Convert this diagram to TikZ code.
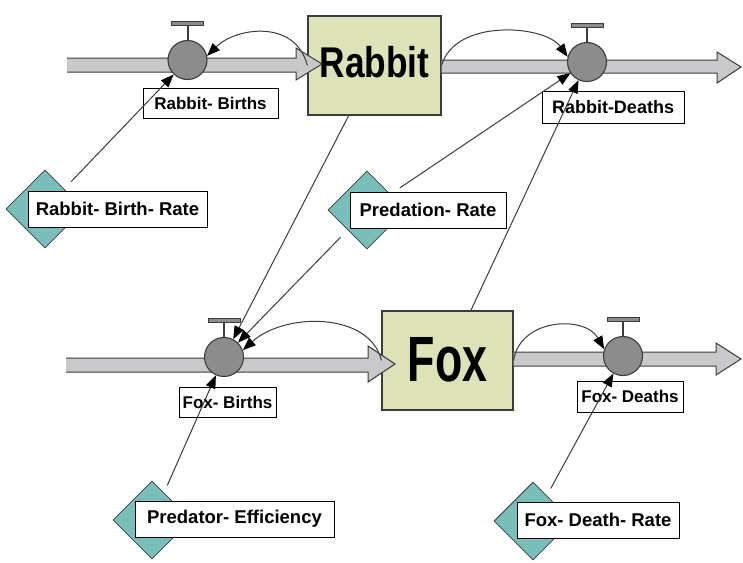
\documentclass[tikz,border=0pt]{standalone}
\usepackage{fontspec}
\setmainfont{Liberation Sans}
\usetikzlibrary{shapes.geometric,arrows.meta}
\definecolor{stockfill}{HTML}{DDE2B8}
\definecolor{auxfill}{HTML}{7ABEBB}
\definecolor{valvefill}{HTML}{8C8C8C}
\definecolor{pipefill}{HTML}{C9C9CB}
\definecolor{edgecol}{HTML}{3C3C3C}
\begin{document}
\begin{tikzpicture}[x=1pt,y=-1pt,
  stock/.style={draw=edgecol, fill=stockfill, line width=1.2pt, inner sep=0pt,
    minimum width=133pt, minimum height=99pt, font=\bfseries},
  valve/.style={circle, draw=edgecol, fill=valvefill, line width=1.1pt,
    minimum size=39pt, inner sep=0pt},
  aux/.style={diamond, draw=edgecol, fill=auxfill, line width=0.8pt,
    minimum width=78pt, minimum height=78pt, inner sep=0pt},
  lblA/.style={draw=black, fill=white, line width=0.8pt, inner sep=0pt,
    minimum height=30pt, font=\bfseries\fontsize{17}{17}\selectfont},
  lblB/.style={draw=black, fill=white, line width=0.8pt, inner sep=0pt,
    minimum height=36pt, font=\bfseries\fontsize{18.5}{18.5}\selectfont},
  pipe/.style={draw=edgecol, line width=1pt, line join=miter},
  link/.style={draw=edgecol, line width=1pt,
    -{Triangle[length=13pt,width=10pt,color=black,fill=black]}},
  tbar/.style={draw=edgecol, fill=valvefill, line width=1pt}
]
\useasboundingbox (0,0) rectangle (743,562);
\fill[white] (0,0) rectangle (743,562);

% stocks
\node[stock] (rabbit) at (374.5,65.5) {\raisebox{7pt}{\scalebox{0.82}[1]{\fontsize{43}{43}\selectfont Rabbit}}};
\node[stock, minimum width=131pt] (fox) at (447.5,360.5) {\raisebox{2.5pt}{\scalebox{0.70}[1]{\fontsize{64}{64}\selectfont Fox}}};

% pipes (flows)
\fill[pipefill] (67,58)--(296,58)--(296,48)--(322,64)--(296,80)--(296,72)--(67,72)--cycle;
\draw[pipe] (67,58)--(296,58)--(296,48)--(322,64)--(296,80)--(296,72)--(67,72);
\fill[pipefill] (rabbit.east |- 0,60)--(717,60)--(717,52)--(741,67)--(717,83)--(717,73)--(rabbit.east |- 0,73)--cycle;
\draw[pipe] (rabbit.east |- 0,60)--(717,60)--(717,52)--(741,67)--(717,83)--(717,73)--(rabbit.east |- 0,73);
\fill[pipefill] (66,358)--(368,358)--(368,346)--(395,364)--(368,382)--(368,372)--(66,372)--cycle;
\draw[pipe] (66,358)--(368,358)--(368,346)--(395,364)--(368,382)--(368,372)--(66,372);
\fill[pipefill] (fox.east |- 0,352)--(716,352)--(716,343)--(741,359)--(716,375)--(716,366)--(fox.east |- 0,366)--cycle;
\draw[pipe] (fox.east |- 0,352)--(716,352)--(716,343)--(741,359)--(716,375)--(716,366)--(fox.east |- 0,366);

% valves
\node[valve] (rbv) at (187.5,60) {};
\node[valve] (rdv) at (587,62) {};
\node[valve] (fbv) at (224,357) {};
\node[valve] (fdv) at (623,356) {};
\foreach \v in {rbv,rdv,fbv,fdv}{
  \draw[edgecol, line width=2pt] (\v.north) -- ([yshift=15pt]\v.north);
  \filldraw[tbar] ([xshift=-16pt,yshift=14pt]\v.north) rectangle ([xshift=16pt,yshift=18pt]\v.north);
}

% flow labels
\node[lblA, minimum width=135pt] (rbl) at (210.5,103) {Rabbit- Births};
\node[lblB, minimum width=142pt, minimum height=32pt, font=\bfseries\fontsize{18}{18}\selectfont] (rdl) at (613,107) {Rabbit-Deaths};
\node[lblA, minimum width=97pt] (fbl) at (227.5,402) {Fox- Births};
\node[lblA, minimum width=106pt, minimum height=31pt] (fdl) at (630,396.5) {Fox- Deaths};

% auxiliaries
\node[aux] (rbr) at (45,209) {};
\node[lblB, minimum width=179pt] (rbrl) at (117.5,209) {Rabbit- Birth- Rate};
\node[aux] (pr) at (367,210) {};
\node[lblB, minimum width=156pt] (prl) at (428,210) {Predation- Rate};
\node[aux] (pe) at (152,520) {};
\node[lblB, minimum width=199pt] (pel) at (234.5,519) {Predator- Efficiency};
\node[aux] (fdr) at (533,521) {};
\node[lblB, minimum width=162pt] (fdrl) at (598,520) {Fox- Death- Rate};

% connectors
\draw[link] (rabbit.west) .. controls (295,18) and (235,28) .. (rbv.12);
\draw[link] (rabbit.east) .. controls (455,18) and (545,25) .. (rdv.165);
\draw[link] (fox.west) .. controls (370,312) and (285,312) .. (fbv.20);
\draw[link] (fox.east) .. controls (520,318) and (585,315) .. (fdv.160);

\draw[link, shorten <=10pt] (rbr) -- (rbv);
\draw[link] (rabbit) -- (fbv);
\draw[link, shorten <=10pt] (pr) -- (fbv);
\draw[link, shorten <=11pt] (pr) -- (rdv);
\draw[link] (fox) -- (rdv);
\draw[link, shorten <=8pt] (pe) -- (fbv);
\draw[link, shorten <=8pt] (fdr) -- (fdv);
\end{tikzpicture}
\end{document}
